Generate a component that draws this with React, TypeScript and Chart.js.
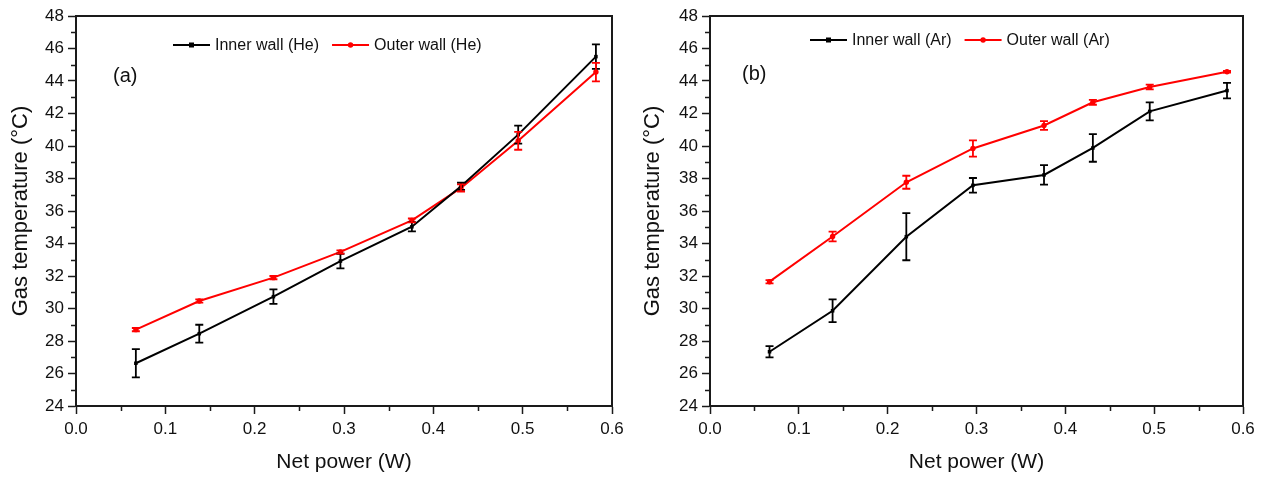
import React, { useEffect, useRef } from "react";
import { Chart, registerables } from "chart.js";

Chart.register(...registerables);

// ---------- data ----------
const netPower = [0.067, 0.138, 0.221, 0.296, 0.376, 0.431, 0.495, 0.582];

const heInner = [26.63, 28.45, 30.73, 32.92, 35.03, 37.52, 40.7, 45.5];
const heInnerErr = [0.87, 0.55, 0.45, 0.45, 0.28, 0.22, 0.55, 0.75];
const heOuter = [28.7, 30.46, 31.9, 33.48, 35.42, 37.42, 40.32, 44.55];
const heOuterErr = [0.1, 0.1, 0.1, 0.1, 0.12, 0.22, 0.55, 0.57];

const arInner = [27.34, 29.86, 34.42, 37.58, 38.22, 39.88, 42.13, 43.41];
const arInnerErr = [0.35, 0.7, 1.45, 0.45, 0.6, 0.85, 0.55, 0.48];
const arOuter = [31.65, 34.43, 37.77, 39.85, 41.26, 42.69, 43.63, 44.57];
const arOuterErr = [0.1, 0.3, 0.4, 0.5, 0.27, 0.15, 0.15, 0.05];

const labelsHe = ["Inner wall (He)", "Outer wall (He)"];
const labelsAr = ["Inner wall (Ar)", "Outer wall (Ar)"];
const panelLabels = ["(a)", "(b)"];

const xMin = 0;
const xMax = 0.6;
const xStep = 0.1;
const xMinorStep = 0.05;
const yMin = 24;
const yMax = 48;
const yStep = 2;
const yMinorStep = 1;

const xTitle = "Net power (W)";
const yTitle = "Gas temperature (\u00B0C)";

const FONT = "'Liberation Sans', Arial, Helvetica, sans-serif";
const AXIS = "#1a1a1a";
const BLACK = "#000000";
const RED = "#ff0000";

// ---------- plugins ----------
const errorBarPlugin = {
  id: "errorBars",
  afterDatasetsDraw(chart: any) {
    const ctx = chart.ctx;
    const y = chart.scales.y;
    chart.data.datasets.forEach((ds: any, di: number) => {
      const meta = chart.getDatasetMeta(di);
      const errs: number[] = ds.errors || [];
      ctx.save();
      ctx.strokeStyle = ds.borderColor;
      ctx.lineWidth = 1.8;
      meta.data.forEach((pt: any, i: number) => {
        const v = ds.data[i].y;
        const e = errs[i] || 0;
        const yt = y.getPixelForValue(v + e);
        const yb = y.getPixelForValue(v - e);
        const x = pt.x;
        ctx.beginPath();
        ctx.moveTo(x, yt);
        ctx.lineTo(x, yb);
        ctx.moveTo(x - 4, yt);
        ctx.lineTo(x + 4, yt);
        ctx.moveTo(x - 4, yb);
        ctx.lineTo(x + 4, yb);
        ctx.stroke();
      });
      ctx.restore();
    });
  },
};

const framePlugin = {
  id: "frame",
  afterDraw(chart: any, _args: any, opts: any) {
    const ctx = chart.ctx;
    const { left, right, top, bottom } = chart.chartArea;
    const xs = chart.scales.x;
    const ys = chart.scales.y;
    ctx.save();
    ctx.strokeStyle = AXIS;
    ctx.lineWidth = 2;
    ctx.beginPath();
    ctx.moveTo(left, top);
    ctx.lineTo(right, top);
    ctx.lineTo(right, bottom);
    ctx.stroke();
    // minor ticks
    ctx.lineWidth = 1.5;
    ctx.beginPath();
    for (let v = yMin + yMinorStep; v < yMax; v += yStep) {
      const py = Math.round(ys.getPixelForValue(v)) + 0.5;
      ctx.moveTo(left, py);
      ctx.lineTo(left - 5, py);
    }
    for (let v = xMin + xMinorStep; v < xMax; v += xStep) {
      const px = Math.round(xs.getPixelForValue(v)) + 0.5;
      ctx.moveTo(px, bottom);
      ctx.lineTo(px, bottom + 5);
    }
    ctx.stroke();

    // legend
    const items = chart.data.datasets;
    let x = opts.legendX;
    const ly = opts.legendY;
    ctx.font = `16px ${FONT}`;
    ctx.textBaseline = "middle";
    ctx.textAlign = "left";
    items.forEach((ds: any) => {
      ctx.strokeStyle = ds.borderColor;
      ctx.fillStyle = ds.borderColor;
      ctx.lineWidth = 2;
      ctx.beginPath();
      ctx.moveTo(x, ly);
      ctx.lineTo(x + 37, ly);
      ctx.stroke();
      const cx = x + 18.5;
      ctx.beginPath();
      if (ds.pointStyle === "rect") {
        ctx.rect(cx - 2.5, ly - 2.5, 5, 5);
      } else {
        ctx.arc(cx, ly, 2.7, 0, Math.PI * 2);
      }
      ctx.fill();
      ctx.fillStyle = "#111";
      ctx.fillText(ds.label, x + 42, ly + 1);
      x += 42 + ctx.measureText(ds.label).width + 13;
    });

    // panel label
    ctx.font = `20px ${FONT}`;
    ctx.fillStyle = "#111";
    ctx.fillText(opts.panelLabel, opts.panelX, opts.panelY);
    ctx.restore();
  },
};

function makeConfig(
  inner: number[],
  innerErr: number[],
  outer: number[],
  outerErr: number[],
  labels: string[],
  panel: { panelLabel: string; panelX: number; panelY: number; legendX: number; legendY: number; padRight: number; yTitlePad: number }
): any {
  return {
    type: "line",
    data: {
      datasets: [
        {
          label: labels[0],
          data: netPower.map((x, i) => ({ x, y: inner[i] })),
          errors: innerErr,
          borderColor: BLACK,
          backgroundColor: BLACK,
          borderWidth: 2,
          pointStyle: "rect",
          pointRadius: 2.5,
          pointBorderWidth: 0,
          tension: 0,
        },
        {
          label: labels[1],
          data: netPower.map((x, i) => ({ x, y: outer[i] })),
          errors: outerErr,
          borderColor: RED,
          backgroundColor: RED,
          borderWidth: 2,
          pointStyle: "circle",
          pointRadius: 2.7,
          pointBorderWidth: 0,
          tension: 0,
        },
      ],
    },
    options: {
      animation: false,
      responsive: false,
      devicePixelRatio: 1,
      layout: { padding: { left: 0, right: panel.padRight, top: 16, bottom: 0 } },
      plugins: {
        legend: { display: false },
        tooltip: { enabled: false },
        frame: panel,
      },
      scales: {
        x: {
          type: "linear",
          min: xMin,
          max: xMax,
          afterFit: (s: any) => {
            s.height = 71;
          },
          border: { display: true, color: AXIS, width: 2 },
          grid: {
            drawOnChartArea: false,
            drawTicks: true,
            tickLength: 8,
            tickWidth: 1.5,
            tickColor: AXIS,
          },
          ticks: {
            stepSize: xStep,
            padding: 5,
            color: "#111",
            font: { family: FONT, size: 17 },
            callback: (v: any) => Number(v).toFixed(1),
            maxRotation: 0,
          },
          title: {
            display: true,
            text: xTitle,
            color: "#111",
            font: { family: FONT, size: 21 },
            padding: { top: 0, bottom: 2 },
          },
        },
        y: {
          type: "linear",
          min: yMin,
          max: yMax,
          afterFit: (s: any) => {
            s.width = 76;
          },
          border: { display: true, color: AXIS, width: 2 },
          grid: {
            drawOnChartArea: false,
            drawTicks: true,
            tickLength: 8,
            tickWidth: 1.5,
            tickColor: AXIS,
          },
          ticks: {
            stepSize: yStep,
            padding: 4,
            color: "#111",
            font: { family: FONT, size: 17 },
          },
          title: {
            display: true,
            text: yTitle,
            color: "#111",
            font: { family: FONT, size: 22 },
            padding: { top: panel.yTitlePad, bottom: 0 },
          },
        },
      },
    },
    plugins: [errorBarPlugin, framePlugin],
  };
}

function Panel({ config }: { config: () => any }) {
  const ref = useRef<HTMLCanvasElement>(null);
  useEffect(() => {
    const chart = new Chart(ref.current as HTMLCanvasElement, config());
    return () => chart.destroy();
  }, []);
  return <canvas ref={ref} width={634} height={477} style={{ display: "block", width: 634, height: 477 }} />;
}

export default function App() {
  return (
    <div
      style={{
        position: "absolute",
        left: 0,
        top: 0,
        width: 1268,
        height: 477,
        display: "flex",
        background: "#fff",
      }}
    >
      <Panel
        config={() =>
          makeConfig(heInner, heInnerErr, heOuter, heOuterErr, labelsHe, {
            panelLabel: panelLabels[0],
            panelX: 113,
            panelY: 76,
            legendX: 173,
            legendY: 45,
            padRight: 22,
            yTitlePad: 8,
          })
        }
      />
      <Panel
        config={() =>
          makeConfig(arInner, arInnerErr, arOuter, arOuterErr, labelsAr, {
            panelLabel: panelLabels[1],
            panelX: 108,
            panelY: 74,
            legendX: 176,
            legendY: 40,
            padRight: 25,
            yTitlePad: 6,
          })
        }
      />
    </div>
  );
}
